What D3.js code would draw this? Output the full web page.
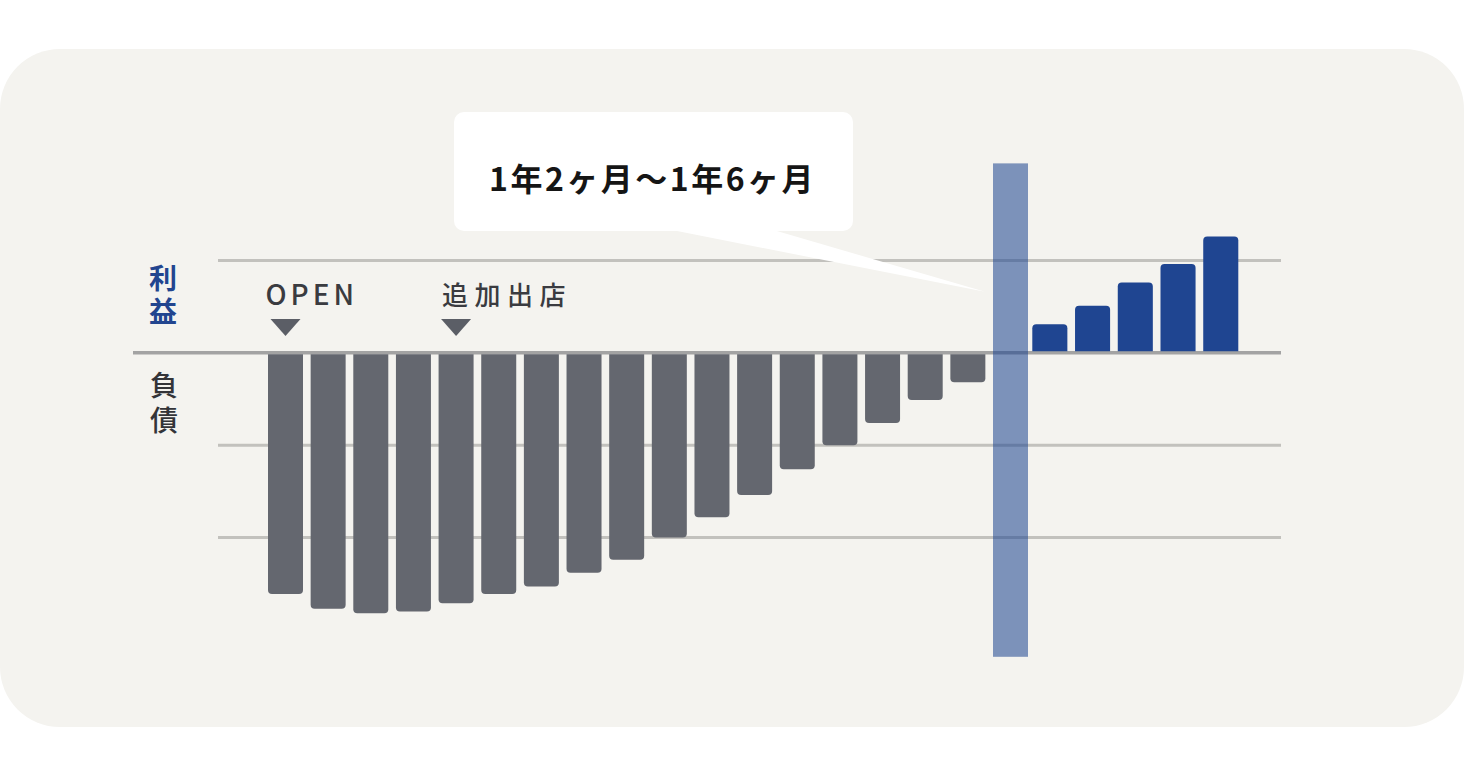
<!DOCTYPE html>
<html>
<head>
<meta charset="utf-8">
<script src="https://cdn.jsdelivr.net/npm/d3@7"></script>
<style>
  html, body { margin: 0; padding: 0; background: #ffffff; }
  svg { display: block; }
  text { font-family: "Noto Sans CJK JP", "Noto Sans", sans-serif; }
</style>
</head>
<body>
<svg id="chart" width="1464" height="777"></svg>
<script>
// ---- data ----
const lossMonths = ["1","2","3","4","5","6","7","8","9","10","11","12","13","14","15","16","17"];
const lossValues = [-261, -277, -282, -280, -271, -261, -253, -238, -224, -200, -178, -154, -126, -100, -76, -51, -32];
const highlightMonth = "18";
const highlightRange = [-329, 205];
const profitMonths = ["19","20","21","22","23"];
const profitValues = [31, 51, 76, 96, 126];
const gridValues = [100, -100, -200];
const baselineValue = 0;
const markerLabels = ["OPEN", "追加出店"];
const markerMonths = ["1", "5"];
const profitLabel = "利益";
const debtLabel = "負債";
const calloutText = "1年2ヶ月～1年6ヶ月";

// ---- layout ----
const svg = d3.select("#chart");
const W = 1464, H = 777;

const y = d3.scaleLinear().domain([0, 100]).range([352.8, 260.4]);
const xLoss = d3.scaleBand().domain(lossMonths.concat([highlightMonth]))
  .range([268, 1028]).paddingInner(0.1794).paddingOuter(0);
const xProfit = d3.scaleBand().domain(profitMonths)
  .range([1032.3, 1238.3]).paddingInner(0.1794).paddingOuter(0);

// panel
svg.append("rect").attr("x", 0).attr("y", 49).attr("width", W).attr("height", 678)
  .attr("rx", 60).attr("fill", "#f4f3ef");

// grid lines
svg.selectAll("line.grid").data(gridValues).enter().append("line")
  .attr("class", "grid")
  .attr("x1", 218).attr("x2", 1281)
  .attr("y1", d => y(d)).attr("y2", d => y(d))
  .attr("stroke", "#c2c1bd").attr("stroke-width", 3);

// baseline
svg.append("line").attr("x1", 133).attr("x2", 1281)
  .attr("y1", y(baselineValue)).attr("y2", y(baselineValue))
  .attr("stroke", "#a3a3a3").attr("stroke-width", 3.5);

// rounded bar helper
function barPath(x0, w, yBase, yEnd, r) {
  const down = yEnd > yBase;
  const h = Math.abs(yEnd - yBase);
  r = Math.min(r, h / 2, w / 2);
  if (down) {
    return `M${x0},${yBase} L${x0 + w},${yBase} L${x0 + w},${yEnd - r} Q${x0 + w},${yEnd} ${x0 + w - r},${yEnd} L${x0 + r},${yEnd} Q${x0},${yEnd} ${x0},${yEnd - r} Z`;
  }
  return `M${x0},${yBase} L${x0 + w},${yBase} L${x0 + w},${yEnd + r} Q${x0 + w},${yEnd} ${x0 + w - r},${yEnd} L${x0 + r},${yEnd} Q${x0},${yEnd} ${x0},${yEnd + r} Z`;
}

// loss bars
svg.selectAll("path.loss").data(lossValues).enter().append("path")
  .attr("class", "loss")
  .attr("d", (d, i) => barPath(xLoss(lossMonths[i]), xLoss.bandwidth(), y(0) + 1.5, y(d), 4))
  .attr("fill", "#64676f");

// profit bars
svg.selectAll("path.profit").data(profitValues).enter().append("path")
  .attr("class", "profit")
  .attr("d", (d, i) => barPath(xProfit(profitMonths[i]), xProfit.bandwidth(), y(0) - 1.5, y(d), 4))
  .attr("fill", "#1f4591");

// highlight column
svg.append("rect")
  .attr("x", xLoss(highlightMonth)).attr("width", xLoss.bandwidth())
  .attr("y", y(highlightRange[1])).attr("height", y(highlightRange[0]) - y(highlightRange[1]))
  .attr("fill", "#1f4591").attr("fill-opacity", 0.56);

// markers
markerMonths.forEach((m, i) => {
  const cx = xLoss(m) + xLoss.bandwidth() / 2;
  svg.append("path")
    .attr("d", `M${cx - 15},319 L${cx + 15},319 L${cx},336 Z`)
    .attr("fill", "#5b5e66");
  svg.append("text")
    .attr("x", i === 0 ? cx - 20 : cx - 14).attr("y", 305)
    .attr("font-size", i === 0 ? 28 : 26)
    .attr("font-weight", 500)
    .attr("letter-spacing", i === 0 ? 4 : 6.5)
    .attr("fill", "#3a3b40")
    .text(markerLabels[i]);
});

// side labels (vertical text)
svg.append("text").attr("x", 163).attr("y", 264.5)
  .style("writing-mode", "vertical-rl")
  .attr("font-size", 28).attr("font-weight", 700).attr("letter-spacing", 5)
  .attr("fill", "#22458f").text(profitLabel);
svg.append("text").attr("x", 164).attr("y", 371.5)
  .style("writing-mode", "vertical-rl")
  .attr("font-size", 28).attr("font-weight", 500).attr("letter-spacing", 7)
  .attr("fill", "#333438").text(debtLabel);

// callout
const tipX = xLoss(highlightMonth) - 8, tipY = y(66);
svg.append("path")
  .attr("d", `M667,229 L770,229 L${tipX},${tipY} Z`)
  .attr("fill", "#ffffff");
svg.append("rect").attr("x", 454).attr("y", 112).attr("width", 399).attr("height", 119)
  .attr("rx", 10).attr("fill", "#ffffff");
svg.append("text").attr("x", 489).attr("y", 190.5)
  .attr("font-size", 32).attr("font-weight", 700).attr("letter-spacing", 2.5)
  .attr("fill", "#151515").text(calloutText);
</script>
</body>
</html>
